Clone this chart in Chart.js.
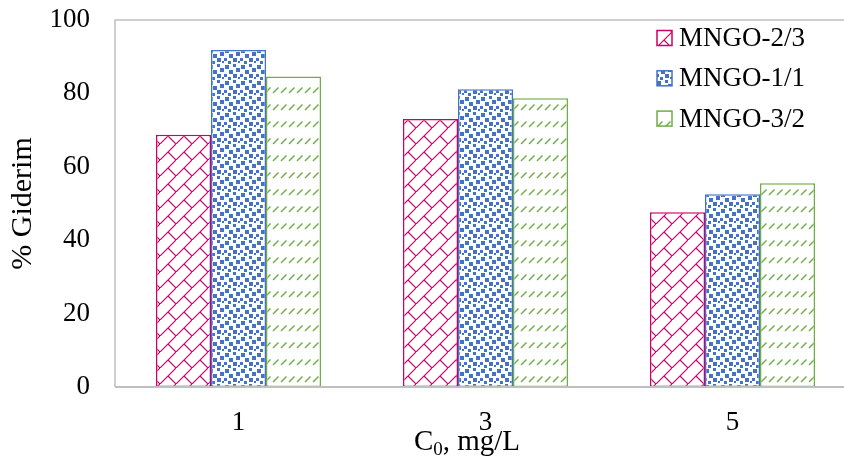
<!DOCTYPE html>
<html>
<head>
<meta charset="utf-8">
<script src="https://cdn.jsdelivr.net/npm/chart.js@4.4.1/dist/chart.umd.min.js"></script>
<style>
  html, body { margin: 0; padding: 0; background: #fff; overflow: hidden; width: 844px; height: 463px; }
  canvas { display: block; }
</style>
</head>
<body>
<canvas id="chart" width="870" height="463"></canvas>
<script>
// Removal efficiency (%) at each initial concentration C0 (mg/L)
const categories = ['1', '3', '5'];
const mngo23 = [68.7, 73.0, 47.6];
const mngo11 = [91.8, 81.1, 52.5];
const mngo32 = [84.6, 78.7, 55.5];
const seriesNames = ['MNGO-2/3', 'MNGO-1/1', 'MNGO-3/2'];
const yMin = 0, yMax = 100, yStep = 20;

const RED = '#CC0066', BLUE = '#4472C4', GREEN = '#70AD47';
const FONT = "'Liberation Serif', 'Times New Roman', serif";

const canvas = document.getElementById('chart');
const ctx = canvas.getContext('2d');

function makePattern(w, h, draw) {
  const c = document.createElement('canvas');
  c.width = w; c.height = h;
  const g = c.getContext('2d');
  g.fillStyle = '#fff';
  g.fillRect(0, 0, w, h);
  draw(g);
  return ctx.createPattern(c, 'repeat');
}

// diagonal brick
const brick = makePattern(16, 16, g => {
  g.strokeStyle = RED; g.lineWidth = 1.2;
  g.beginPath();
  g.moveTo(-2, 18); g.lineTo(18, -2);
  g.moveTo(8, 8); g.lineTo(16, 16);
  g.stroke();
});

// large confetti
const confetti = makePattern(16, 16, g => {
  g.fillStyle = BLUE;
  const sq = [[1,1,4],[9,0,3],[12,4,4],[5,6,4],[0,10,3],[9,10,4],[4,13,3],[14,13,2]];
  sq.forEach(([x, y, s]) => g.fillRect(x, y, s, s));
});

// dashed upward diagonal
const dashes = makePattern(8, 17, g => {
  g.strokeStyle = GREEN; g.lineWidth = 1.4;
  g.beginPath();
  g.moveTo(1, 8); g.lineTo(6.5, 2.5);
  g.stroke();
});

const patterns = [brick, confetti, dashes];
const colors = [RED, BLUE, GREEN];

// plot frame: left, top and bottom lines
const framePlugin = {
  id: 'frame',
  beforeDatasetsDraw(chart) {
    const { ctx, chartArea: a } = chart;
    ctx.save();
    ctx.strokeStyle = '#BFBFBF';
    ctx.lineWidth = 1.5;
    ctx.beginPath();
    ctx.moveTo(a.left, a.bottom);
    ctx.lineTo(a.left, a.top);
    ctx.lineTo(a.right, a.top);
    ctx.stroke();
    ctx.restore();
  },
  afterDatasetsDraw(chart) {
    const { ctx, chartArea: a } = chart;
    ctx.save();
    ctx.strokeStyle = '#BFBFBF';
    ctx.lineWidth = 2;
    ctx.beginPath();
    ctx.moveTo(a.left, a.bottom);
    ctx.lineTo(a.right, a.bottom);
    ctx.stroke();
    ctx.restore();
  }
};

// x-axis title with subscript
const xTitlePlugin = {
  id: 'xTitle',
  afterDraw(chart) {
    const { ctx } = chart;
    ctx.save();
    ctx.fillStyle = '#000';
    ctx.textBaseline = 'alphabetic';
    const big = '29px ' + FONT, small = '19px ' + FONT;
    ctx.font = big; const wC = ctx.measureText('C').width;
    const wRest = ctx.measureText(', mg/L').width;
    ctx.font = small; const w0 = ctx.measureText('0').width;
    const total = wC + w0 + wRest;
    let x = 467 - total / 2;
    const y = 450;
    ctx.font = big; ctx.fillText('C', x, y); x += wC;
    ctx.font = small; ctx.fillText('0', x, y + 5); x += w0;
    ctx.font = big; ctx.fillText(', mg/L', x, y);
    ctx.restore();
  }
};

// legend inside the plot, top right
const legendPlugin = {
  id: 'boxLegend',
  afterDraw(chart) {
    const { ctx } = chart;
    ctx.save();
    ctx.font = '27px ' + FONT;
    ctx.textBaseline = 'middle';
    chart.data.datasets.forEach((ds, i) => {
      const cy = 38 + i * 40.3;
      const bx = 657, bs = 15;
      ctx.fillStyle = patterns[i];
      ctx.fillRect(bx, cy - bs / 2, bs, bs);
      ctx.strokeStyle = colors[i];
      ctx.lineWidth = 1.5;
      ctx.strokeRect(bx, cy - bs / 2, bs, bs);
      ctx.fillStyle = '#000';
      ctx.fillText(ds.label, 679, cy + 1);
    });
    ctx.restore();
  }
};

new Chart(ctx, {
  type: 'bar',
  data: {
    labels: categories,
    datasets: [mngo23, mngo11, mngo32].map((d, i) => ({
      label: seriesNames[i],
      data: d,
      backgroundColor: patterns[i],
      borderColor: colors[i],
      borderWidth: 1.5,
      borderSkipped: false,
      categoryPercentage: 0.668,
      barPercentage: 1.0
    }))
  },
  options: {
    responsive: false,
    animation: false,
    devicePixelRatio: 1,
    layout: { padding: { top: 20, right: 14, bottom: 0, left: 0 } },
    plugins: { legend: { display: false }, tooltip: { enabled: false } },
    scales: {
      x: {
        grid: { display: false, drawTicks: false },
        border: { display: false },
        ticks: { color: '#000', font: { family: FONT, size: 27 }, padding: 20 },
        afterFit(s) { s.height = 76; s.paddingLeft = 0; s.paddingRight = 0; }
      },
      y: {
        min: yMin, max: yMax,
        grid: { display: false, drawTicks: false },
        border: { display: false },
        ticks: { stepSize: yStep, color: '#000', font: { family: FONT, size: 27 }, padding: 25 },
        title: { display: true, text: '% Giderim', color: '#000', font: { family: FONT, size: 30 }, padding: { top: 5, bottom: 0 } },
        afterFit(s) { s.width = 115; s.paddingTop = 0; s.paddingBottom = 0; }
      }
    }
  },
  plugins: [framePlugin, xTitlePlugin, legendPlugin]
});
</script>
</body>
</html>
